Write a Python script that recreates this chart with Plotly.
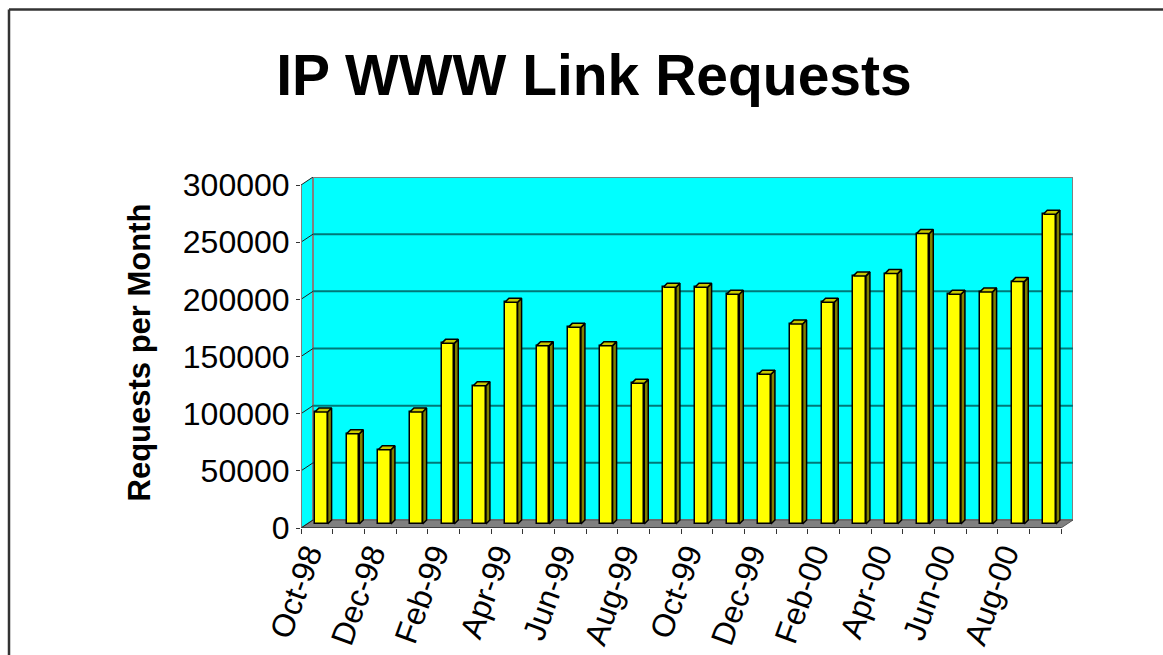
import plotly.graph_objects as go

# ---------------- data ----------------
months = ["Oct-98", "Nov-98", "Dec-98", "Jan-99", "Feb-99", "Mar-99", "Apr-99", "May-99",
          "Jun-99", "Jul-99", "Aug-99", "Sep-99", "Oct-99", "Nov-99", "Dec-99", "Jan-00",
          "Feb-00", "Mar-00", "Apr-00", "May-00", "Jun-00", "Jul-00", "Aug-00", "Sep-00"]
requests = [98000, 79000, 65000, 98000, 158000, 121000, 194000, 156000,
            172000, 156000, 123000, 207000, 207000, 201000, 131000, 175000,
            194000, 217000, 219000, 254000, 201000, 203000, 212000, 271000]
y_ticks = [0, 50000, 100000, 150000, 200000, 250000, 300000]

# ---------------- styling / 3D geometry (in axis units) ----------------
W, H = 1163, 655
ML, MR, MT, MB = 301, 90, 177, 127
DX = 0.379      # wall depth along x (category units)
DY = 7000       # wall depth along y (value units)
YMAX = 300000
BAR_X0, BAR_W = -0.06, 0.40
BAR_BASE = 3500
BAR_DX, BAR_DY = 0.126, 3500
N = len(months)
idx = list(range(N))

CYAN = "#00FFFF"
YELLOW = "#FFFF00"
SIDE = "#808000"
CAP = "#C8C800"
FLOOR = "#808080"
GRID = "#007878"
FONT = "Liberation Sans, Arial, sans-serif"

fig = go.Figure()

# side faces and caps of the bars
sx, sy, cx, cy = [], [], [], []
for i, v in zip(idx, requests):
    l = i + BAR_X0
    r = l + BAR_W
    b = BAR_BASE
    t = BAR_BASE + v
    sx += [r, r + BAR_DX, r + BAR_DX, r, r, None]
    sy += [b, b + BAR_DY, t + BAR_DY, t, b, None]
    cx += [l, r, r + BAR_DX, l + BAR_DX, l, None]
    cy += [t, t, t + BAR_DY, t + BAR_DY, t, None]

fig.add_trace(go.Scatter(x=sx, y=sy, mode="lines", fill="toself", fillcolor=SIDE,
                         line=dict(color="black", width=1.5), hoverinfo="skip",
                         showlegend=False))
fig.add_trace(go.Scatter(x=cx, y=cy, mode="lines", fill="toself", fillcolor=CAP,
                         line=dict(color="black", width=1.5), hoverinfo="skip",
                         showlegend=False))
fig.add_trace(go.Bar(x=idx, y=requests, base=BAR_BASE, width=BAR_W, offset=BAR_X0,
                     marker=dict(color=YELLOW, line=dict(color="black", width=1.5)),
                     showlegend=False))

shapes = []
# left side wall
shapes.append(dict(type="path", xref="x", yref="y", layer="below",
                   path=f"M -0.5,0 L -0.5,{YMAX} L {-0.5+DX},{YMAX+DY} L {-0.5+DX},{DY} Z",
                   fillcolor=CYAN, line=dict(width=0)))
# back wall
shapes.append(dict(type="rect", xref="x", yref="y", layer="below",
                   x0=-0.5 + DX, x1=N - 0.5 + DX, y0=DY, y1=YMAX + DY,
                   fillcolor=CYAN, line=dict(color="#808080", width=2)))
# gridlines on back wall
for v in y_ticks[1:-1]:
    shapes.append(dict(type="line", xref="x", yref="y", layer="below",
                       x0=-0.5 + DX, x1=N - 0.5 + DX, y0=v + DY, y1=v + DY,
                       line=dict(color=GRID, width=2)))
# floor
shapes.append(dict(type="path", xref="x", yref="y", layer="below",
                   path=f"M -0.5,0 L {N-0.5},0 L {N-0.5+DX},{DY} L {-0.5+DX},{DY} Z",
                   fillcolor=FLOOR, line=dict(color="#555555", width=1)))
# diagonals on the side wall
for v in y_ticks:
    shapes.append(dict(type="line", xref="x", yref="y", layer="below",
                       x0=-0.5, x1=-0.5 + DX, y0=v, y1=v + DY,
                       line=dict(color="#222222", width=1)))
# front y axis line
shapes.append(dict(type="line", xref="x", yref="y", x0=-0.5, x1=-0.5, y0=0, y1=YMAX,
                   line=dict(color="#808080", width=2)))
# front x axis line
shapes.append(dict(type="line", xref="x", yref="y", x0=-0.5, x1=N - 0.5, y0=0, y1=0,
                   line=dict(color="#333333", width=1.5)))

# slide border (top and left)
def px(xp):
    return (xp - ML) / (W - ML - MR)
def py(yp):
    return 1 - (yp - MT) / (H - MT - MB)
shapes.append(dict(type="line", xref="paper", yref="paper", x0=px(9), x1=px(W + 5),
                   y0=py(9.5), y1=py(9.5), line=dict(color="#333333", width=2.5)))
shapes.append(dict(type="line", xref="paper", yref="paper", x0=px(9), x1=px(9),
                   y0=py(9.5), y1=py(H + 5), line=dict(color="#333333", width=2.5)))

fig.update_layout(
    width=W, height=H,
    margin=dict(l=ML, r=MR, t=MT, b=MB, pad=0, autoexpand=False),
    paper_bgcolor="white", plot_bgcolor="white",
    shapes=shapes,
    bargap=0,
    font=dict(family=FONT, color="black"),
    title=dict(text="<b>IP WWW Link Requests</b>", x=594 / W, xref="container",
               xanchor="center", y=1 - 75 / H, yref="container", yanchor="middle",
               font=dict(size=57, family=FONT, color="black")),
    xaxis=dict(range=[-0.5, N - 0.5 + DX], showgrid=False, zeroline=False, showline=False,
               automargin=False,
               tickmode="array", tickvals=idx[::2], ticktext=months[::2],
               tickangle=-70, ticks="", ticklabelshift=-9,
               tickfont=dict(size=32, family=FONT, color="black"),
               minor=dict(tickmode="array", tickvals=[i - 0.5 for i in range(N + 1)],
                          ticks="outside", ticklen=5, tickwidth=1, tickcolor="#333333",
                          showgrid=False)),
    yaxis=dict(range=[0, YMAX + DY], showgrid=False, zeroline=False, showline=False,
               automargin=False,
               tickmode="array", tickvals=y_ticks, ticktext=[str(v) for v in y_ticks],
               ticks="outside", ticklen=4, tickwidth=1, tickcolor="#333333",
               tickfont=dict(size=32, family=FONT, color="black"),
               title=dict(text="<b>Requests per Month</b>", standoff=22,
                          font=dict(size=31, family=FONT, color="black"))),
)

fig.write_html("out.html", config={"displayModeBar": False},
               post_script="document.body.style.margin='0px';document.body.style.overflow='hidden';")
